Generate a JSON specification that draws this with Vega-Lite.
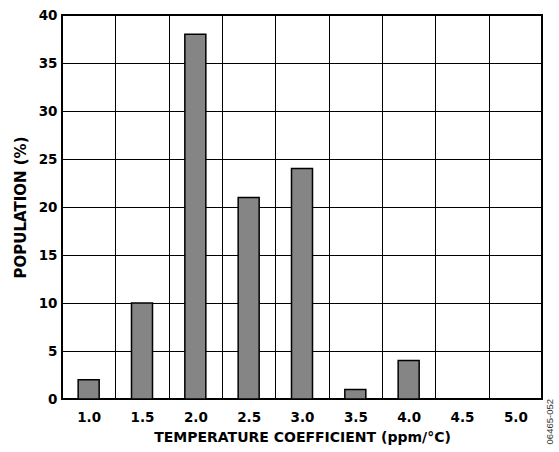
{
  "$schema": "https://vega.github.io/schema/vega-lite/v6.json",
  "width": 480,
  "height": 384,
  "autosize": {"type": "none"},
  "padding": {"left": 62, "top": 15, "right": 17, "bottom": 53},
  "background": "white",
  "title": {
    "text": "06465-052",
    "orient": "right",
    "anchor": "end",
    "frame": "group",
    "angle": -90,
    "align": "right",
    "baseline": "middle",
    "font": "Liberation Sans",
    "fontSize": 9.5,
    "fontWeight": "normal",
    "color": "#333333",
    "offset": -2
  },
  "data": {
    "values": [
      {"tc": "1.0", "pop": 2},
      {"tc": "1.5", "pop": 10},
      {"tc": "2.0", "pop": 38},
      {"tc": "2.5", "pop": 21},
      {"tc": "3.0", "pop": 24},
      {"tc": "3.5", "pop": 1},
      {"tc": "4.0", "pop": 4},
      {"tc": "4.5", "pop": 0},
      {"tc": "5.0", "pop": 0}
    ]
  },
  "config": {
    "view": {"stroke": "black", "strokeWidth": 2},
    "axis": {
      "labelFont": "DejaVu Sans",
      "labelFontWeight": "bold",
      "labelFontSize": 13.5,
      "labelColor": "black",
      "titleFont": "DejaVu Sans",
      "titleFontWeight": "bold",
      "titleFontSize": 14,
      "titleColor": "black",
      "gridColor": "black",
      "gridOpacity": 1,
      "gridWidth": 1,
      "domain": false,
      "ticks": false
    }
  },
  "mark": {"type": "bar", "color": "#858585", "stroke": "black", "strokeWidth": 1.5, "width": 21},
  "encoding": {
    "x": {
      "field": "tc",
      "type": "ordinal",
      "sort": null,
      "scale": {"paddingInner": 0, "paddingOuter": 0},
      "axis": {
        "title": "TEMPERATURE COEFFICIENT (ppm/°C)",
        "labelAngle": 0,
        "tickBand": "extent",
        "grid": true,
        "labelPadding": 11,
        "titlePadding": 7
      }
    },
    "y": {
      "field": "pop",
      "type": "quantitative",
      "scale": {"domain": [0, 40], "nice": false},
      "axis": {
        "title": "POPULATION (%)",
        "titleFontSize": 15,
        "values": [0, 5, 10, 15, 20, 25, 30, 35, 40],
        "grid": true,
        "labelPadding": 5,
        "titlePadding": 10
      }
    }
  }
}
